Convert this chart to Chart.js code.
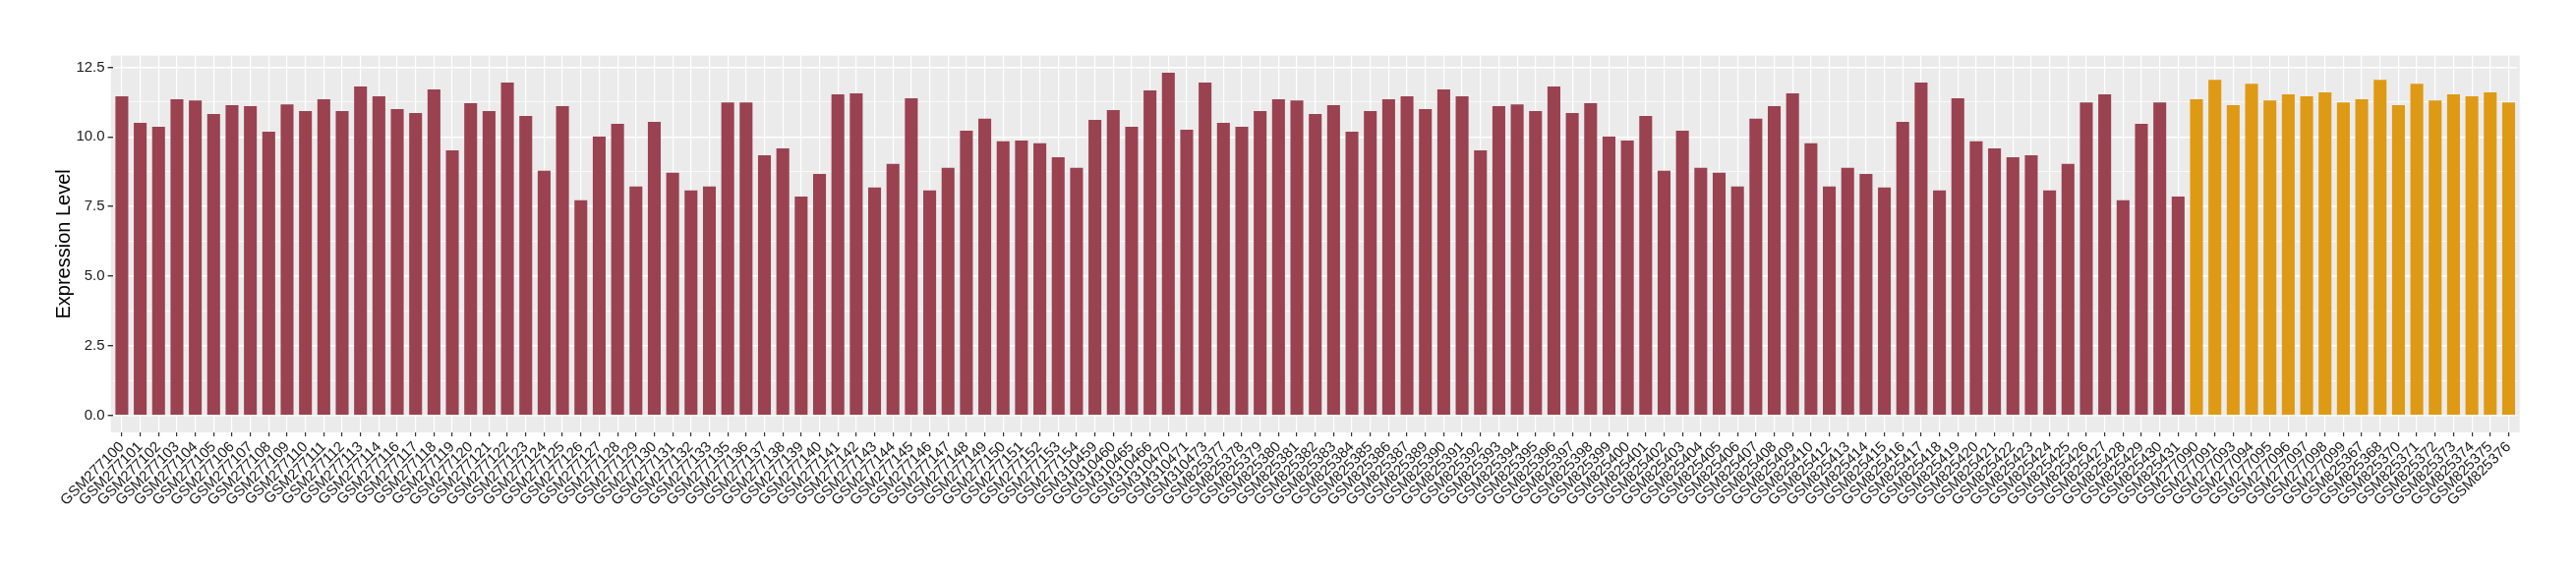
<!DOCTYPE html>
<html>
<head>
<meta charset="utf-8">
<script src="https://cdn.jsdelivr.net/npm/chart.js@4.4.1/dist/chart.umd.min.js"></script>
<style>
  body { margin: 0; background: #fff; }
  #wrap { width: 2620px; height: 580px; position: relative; }
</style>
</head>
<body>
<div id="wrap"><canvas id="exprChart"></canvas></div>
<script>
// samples (red group)
var samplesRed = [
  'GSM277100','GSM277101','GSM277102','GSM277103','GSM277104','GSM277105','GSM277106','GSM277107','GSM277108','GSM277109',
  'GSM277110','GSM277111','GSM277112','GSM277113','GSM277114','GSM277116','GSM277117','GSM277118','GSM277119','GSM277120',
  'GSM277121','GSM277122','GSM277123','GSM277124','GSM277125','GSM277126','GSM277127','GSM277128','GSM277129','GSM277130',
  'GSM277131','GSM277132','GSM277133','GSM277135','GSM277136','GSM277137','GSM277138','GSM277139','GSM277140','GSM277141',
  'GSM277142','GSM277143','GSM277144','GSM277145','GSM277146','GSM277147','GSM277148','GSM277149','GSM277150','GSM277151',
  'GSM277152','GSM277153','GSM277154','GSM310459','GSM310460','GSM310465','GSM310466','GSM310470','GSM310471','GSM310473',
  'GSM825377','GSM825378','GSM825379','GSM825380','GSM825381','GSM825382','GSM825383','GSM825384','GSM825385','GSM825386',
  'GSM825387','GSM825389','GSM825390','GSM825391','GSM825392','GSM825393','GSM825394','GSM825395','GSM825396','GSM825397',
  'GSM825398','GSM825399','GSM825400','GSM825401','GSM825402','GSM825403','GSM825404','GSM825405','GSM825406','GSM825407',
  'GSM825408','GSM825409','GSM825410','GSM825412','GSM825413','GSM825414','GSM825415','GSM825416','GSM825417','GSM825418',
  'GSM825419','GSM825420','GSM825421','GSM825422','GSM825423','GSM825424','GSM825425','GSM825426','GSM825427','GSM825428',
  'GSM825429','GSM825430','GSM825431'
];
var valuesRed = [
  11.46, 10.50, 10.36, 11.35, 11.31, 10.82, 11.14, 11.10, 10.19, 11.17,
  10.93, 11.35, 10.93, 11.81, 11.46, 11.00, 10.86, 11.70, 9.52, 11.21,
  10.93, 11.95, 10.75, 8.78, 11.10, 7.72, 10.01, 10.47, 8.22, 10.54,
  8.71, 8.08, 8.22, 11.24, 11.24, 9.34, 9.59, 7.86, 8.67, 11.53,
  11.56, 8.18, 9.03, 11.39, 8.08, 8.89, 10.22, 10.65, 9.84, 9.87,
  9.77, 9.27, 8.89, 10.61, 10.96, 10.36, 11.67, 12.30, 10.26, 11.95,
  10.50, 10.36, 10.93, 11.35, 11.31, 10.82, 11.14, 10.19, 10.93, 11.35,
  11.46, 11.00, 11.70, 11.46, 9.52, 11.10, 11.17, 10.93, 11.81, 10.86,
  11.21, 10.01, 9.87, 10.75, 8.78, 10.22, 8.89, 8.71, 8.22, 10.65,
  11.10, 11.56, 9.77, 8.22, 8.89, 8.67, 8.18, 10.54, 11.95, 8.08,
  11.39, 9.84, 9.59, 9.27, 9.34, 8.08, 9.03, 11.24, 11.53, 7.72,
  10.47, 11.24, 7.86
];

// samples (orange group)
var samplesOrange = [
  'GSM277090','GSM277091','GSM277093','GSM277094','GSM277095','GSM277096','GSM277097','GSM277098','GSM277099',
  'GSM825367','GSM825368','GSM825370','GSM825371','GSM825372','GSM825373','GSM825374','GSM825375','GSM825376'
];
var valuesOrange = [
  11.35, 12.05, 11.14, 11.91, 11.31, 11.53, 11.46, 11.60, 11.24,
  11.35, 12.05, 11.14, 11.91, 11.31, 11.53, 11.46, 11.60, 11.24
];

var yTicks = [0, 2.5, 5, 7.5, 10, 12.5];

const RED = 'rgb(154, 66, 80)';
const ORANGE = 'rgb(222, 154, 20)';
const FONT = 'Liberation Sans, Arial, sans-serif';

const labels = samplesRed.concat(samplesOrange);
const values = valuesRed.concat(valuesOrange);
const colors = samplesRed.map(function(){ return RED; })
  .concat(samplesOrange.map(function(){ return ORANGE; }));

function isMajor(v){
  return yTicks.some(function(t){ return Math.abs(t - v) < 1e-6; });
}

// grey panel (a bit wider than the chart area, like ggplot's 0.6 expansion)
const panelBg = {
  id: 'panelBg',
  beforeDraw(chart){
    const a = chart.chartArea;
    const ext = (a.right - a.left) / labels.length * 0.1;
    const ctx = chart.ctx;
    ctx.save();
    ctx.fillStyle = '#EBEBEB';
    ctx.fillRect(a.left - ext, a.top, a.right - a.left + 2 * ext, a.bottom - a.top);
    ctx.restore();
  }
};

const config = {
  type: 'bar',
  data: {
    labels: labels,
    datasets: [{
      label: 'Expression Level',
      data: values,
      backgroundColor: colors,
      borderWidth: 0,
      categoryPercentage: 1.0,
      barPercentage: 0.7
    }]
  },
  options: {
    responsive: true,
    maintainAspectRatio: false,
    animation: false,
    layout: { padding: { left: 53, right: 59.2, top: 56.7, bottom: 0 } },
    plugins: {
      legend: { display: false },
      tooltip: { enabled: false }
    },
    scales: {
      x: {
        offset: true,
        border: { display: false },
        grid: { color: '#FFFFFF', lineWidth: 1.2, offset: false, tickLength: 4, tickColor: '#333333' },
        ticks: {
          autoSkip: false, minRotation: 45, maxRotation: 45,
          color: '#1a1a1a', padding: 2,
          font: { family: FONT, size: 15 }
        },
        afterFit: function(s){ s.height = 140; }
      },
      y: {
        min: -0.615,
        max: 12.915,
        border: { display: false },
        grid: {
          color: '#FFFFFF',
          lineWidth: function(c){ return c.tick && isMajor(c.tick.value) ? 1.4 : 0.7; },
          tickLength: 5,
          tickColor: function(c){ return c.tick && isMajor(c.tick.value) ? '#333333' : 'rgba(0,0,0,0)'; }
        },
        ticks: {
          stepSize: 1.25,
          includeBounds: false,
          autoSkip: false,
          padding: 3,
          color: '#1a1a1a',
          font: { family: FONT, size: 15 },
          callback: function(v){ return isMajor(v) ? v.toFixed(1) : ''; }
        },
        title: {
          display: true,
          text: 'Expression Level',
          color: '#000000',
          padding: 0,
          font: { family: FONT, size: 20 }
        },
        afterFit: function(s){ s.width = 61.6; }
      }
    }
  },
  plugins: [panelBg]
};

var exprChart = new Chart(document.getElementById('exprChart'), config);
</script>
</body>
</html>
